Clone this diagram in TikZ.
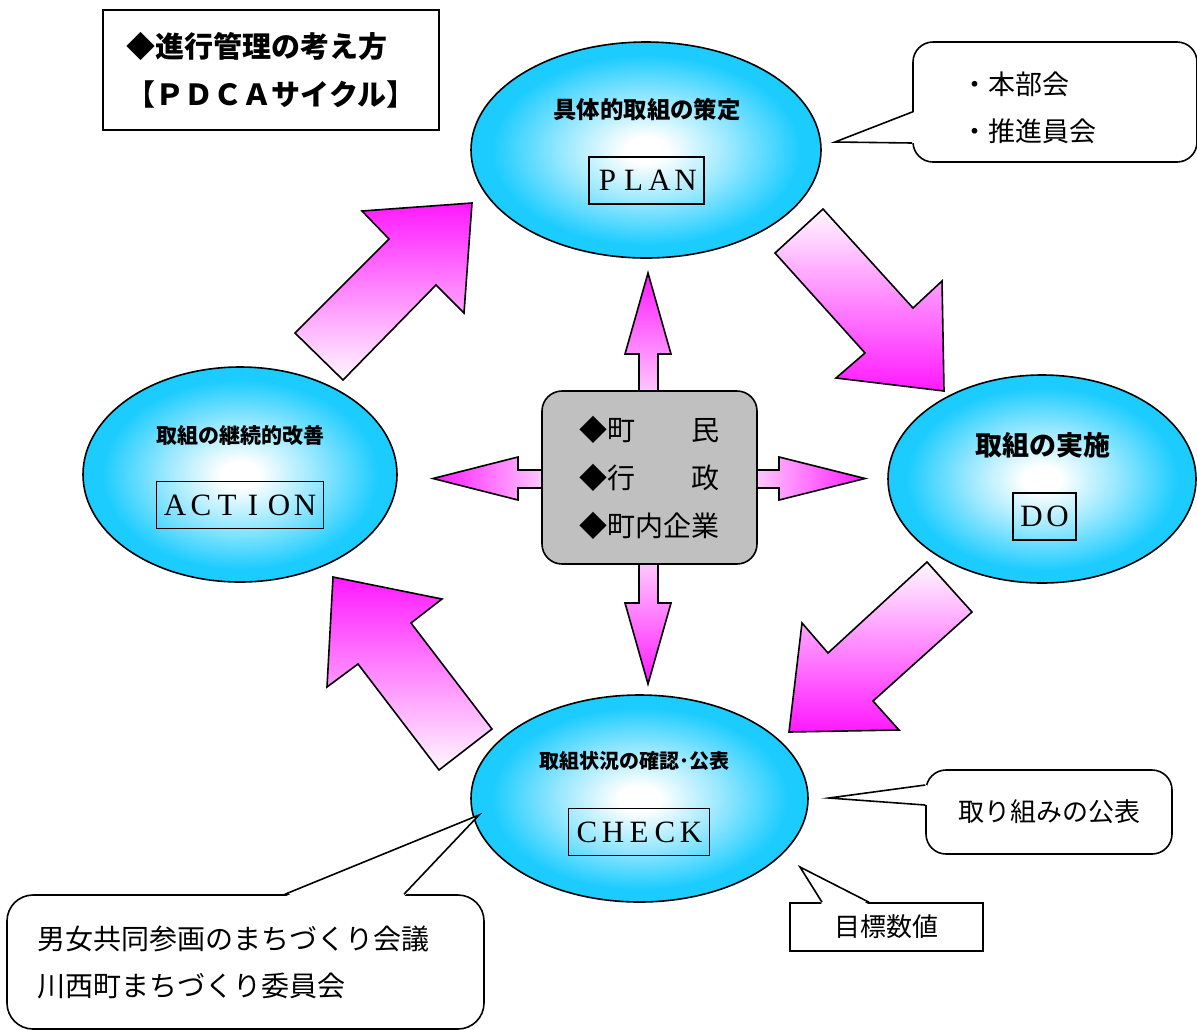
\documentclass[tikz,border=0pt]{standalone}
\usepackage{fontspec}
\setmainfont{Noto Sans CJK JP}
\newfontfamily\latinserif{Liberation Serif}
\usetikzlibrary{shapes.geometric}
\definecolor{skyedge}{RGB}{28,204,255}
\definecolor{pinkhead}{RGB}{255,25,255}
\definecolor{pinktail}{RGB}{255,248,255}
\definecolor{pinklite}{RGB}{255,205,255}
\definecolor{boxgray}{RGB}{192,192,192}
\pgfdeclareradialshading{ballshade}{\pgfpoint{0bp}{0bp}}{color(0bp)=(white); color(3bp)=(white); color(12bp)=(skyedge!45); color(22bp)=(skyedge); color(50bp)=(skyedge)}
\newcommand\spaced[1]{\spacedstep#1\relax}
\def\spacedstep#1{\ifx#1\relax\else\makebox[13pt]{#1}\expandafter\spacedstep\fi}

\begin{document}
\begin{tikzpicture}[x=0.5pt, y=-0.5pt, line width=0.8pt,
    oval/.style = {draw, ellipse, inner sep=0pt, shading=ballshade},
    heading/.style = {font=\bfseries\fontsize{#1}{#1}\selectfont},
    tag/.style = {draw, minimum height=23.5pt, inner xsep=2.75pt, inner ysep=0pt, font=\latinserif\fontsize{15.5pt}{15.5pt}\selectfont},
    memo/.style = {draw, fill=white, rounded corners=10pt, font=\fontsize{13pt}{23.5pt}\selectfont},
    bigarrow/.style = {draw, line join=miter},
    smallarrow/.style = {draw, line join=miter}]
    \useasboundingbox (0,0) rectangle (1197,1029);

    % cycle arrows
    \path[bigarrow, top color=pinkhead, bottom color=pinktail]
        (295,333) -- (389,239) -- (362,211) -- (472,203) -- (464,313) -- (436,285) -- (343,380) -- cycle;
    \path[bigarrow, top color=pinktail, bottom color=pinkhead]
        (823,209) -- (913,308) -- (942,281) -- (944,391) -- (836,378) -- (865,353) -- (775,253) -- cycle;
    \path[bigarrow, top color=pinktail, bottom color=pinkhead]
        (927,562) -- (972,612) -- (873,701) -- (899,730) -- (789,732) -- (802,623) -- (828,653) -- cycle;
    \path[bigarrow, top color=pinkhead, bottom color=pinktail]
        (333,577) -- (442,599) -- (411,623) -- (492,729) -- (439,770) -- (358,664) -- (327,687) -- cycle;

    % arrows out of the centre box
    \path[smallarrow, top color=pinkhead, bottom color=pinklite]
        (639,396) -- (639,354) -- (625,354) -- (648,273) -- (671,354) -- (658,354) -- (658,396) -- cycle;
    \path[smallarrow, top color=pinklite, bottom color=pinkhead]
        (639,560) -- (639,603) -- (625,603) -- (648,684) -- (671,603) -- (658,603) -- (658,560) -- cycle;
    \path[smallarrow, left color=pinkhead, right color=pinklite]
        (546,470) -- (518,470) -- (518,457) -- (433,478.5) -- (518,500) -- (518,488) -- (546,488) -- cycle;
    \path[smallarrow, left color=pinklite, right color=pinkhead]
        (753,470) -- (779,470) -- (779,457) -- (865,478.5) -- (779,500) -- (779,488) -- (753,488) -- cycle;

    \node[draw, fill=boxgray, rounded corners=10pt, minimum width=107.5pt, minimum height=86.5pt,
        align=left, font=\fontsize{14pt}{24pt}\selectfont] (crowd) at (649.5,477.5)
        {◆町　　民\\◆行　　政\\◆町内企業};

    % the four stages
    \node[oval, minimum width=175pt, minimum height=108pt] (plan) at (646,150) {};
    \node[oval, minimum width=154pt, minimum height=104pt] (do) at (1042,479) {};
    \node[oval, minimum width=157pt, minimum height=107.5pt] (action) at (240,474.5) {};
    \node[oval, minimum width=168.5pt, minimum height=103.5pt] (check) at (639.5,798.5) {};

    \node[heading=11.7pt] (planhead) at (647,110) {具体的取組の策定};
    \node[heading=13.5pt] (dohead) at (1043,445) {取組の実施};
    \node[heading=10.5pt] (actionhead) at (240,436) {取組の継続的改善};
    \node[heading=10pt] (checkhead) at (634,761) {取組状況の確認･公表};

    \node[tag] (plantag) at (646.5,180.5) {\spaced{PLAN}};
    \node[tag] (dotag) at (1044.5,516.5) {\spaced{DO}};
    \node[tag] (actiontag) at (240,505) {\spaced{ACTION}};
    \node[tag] (checktag) at (639,832) {\spaced{CHECK}};

    % title
    \node[draw, minimum width=168pt, minimum height=60pt, align=left,
        font=\bfseries\fontsize{14.5pt}{24pt}\selectfont] (caption) at (271,70)
        {◆進行管理の考え方\\【ＰＤＣＡサイクル】};

    % callouts
    \node[memo, text width=94pt, inner xsep=24pt, minimum height=60pt, align=left,
        font=\fontsize{13.5pt}{23.5pt}\selectfont] (honbu) at (1055,102) {\rule{0pt}{17pt}・本部会\\・推進員会};
    \fill[white] (914.5,112) -- (835,142) -- (914.5,143) -- cycle;
    \draw[line join=miter] (honbu.west |- 0,112) -- (835,142) -- (honbu.west |- 0,143);

    \node[memo, minimum width=123pt, minimum height=42pt] (kouhyou) at (1049,812) {取り組みの公表};
    \fill[white] (927.5,785) -- (829,798) -- (927.5,805) -- cycle;
    \draw[line join=miter] (kouhyou.west |- 0,785) -- (829,798) -- (kouhyou.west |- 0,805);

    \node[memo, sharp corners, minimum width=96.5pt, minimum height=24pt] (mokuhyou) at (886.5,927) {目標数値};
    \fill[white] (822,904.5) -- (800,867) -- (869,904.5) -- cycle;
    \draw[line join=miter] (822,0 |- mokuhyou.north) -- (800,867) -- (869,0 |- mokuhyou.north);

    \node[memo, rounded corners=13pt, text width=208.5pt, inner xsep=15pt, minimum height=67pt, align=left,
        font=\fontsize{14pt}{23.5pt}\selectfont] (kaigi) at (245.5,962)
        {男女共同参画のまちづくり会議\\川西町まちづくり委員会};
    \fill[white] (285,896.5) -- (479,815) -- (404,896.5) -- cycle;
    \draw[line join=miter] (285,0 |- kaigi.north) -- (479,815) -- (404,0 |- kaigi.north);
\end{tikzpicture}
\end{document}
